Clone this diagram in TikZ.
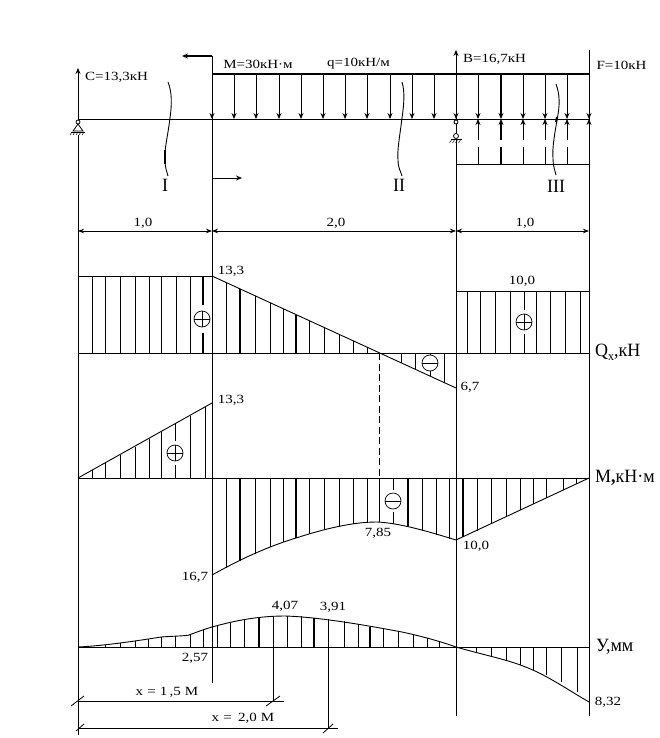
\documentclass[tikz,border=0pt]{standalone}
\usepackage{fontspec}
\setmainfont[FakeStretch=1.2]{Liberation Serif}
\usetikzlibrary{arrows.meta}
\newcommand\tallbox[1]{\scalebox{1}[1.25]{#1}}
\newcommand\gapat[3]{\fill[white] (#1-2,#2-#3) rectangle (#1+2,#2+#3);}
\tikzset{
  ln/.style={line width=0.8pt,black},
  hvy/.style={line width=2pt,black},
  hatchline/.style={line width=0.7pt,black},
  curveline/.style={line width=0.9pt,black},
  tip/.style={-{Stealth[length=6pt,width=5pt]}},
  dimline/.style={line width=0.8pt,{Stealth[length=6pt,width=4.5pt]}-{Stealth[length=6pt,width=4.5pt]}},
  lab/.style={inner sep=0pt,font=\fontsize{12.5pt}{13pt}\selectfont},
  big/.style={inner sep=0pt,font=\fontsize{15pt}{16pt}\selectfont},
  sign/.style={circle,draw,line width=0.7pt,minimum size=16pt,inner sep=0pt,fill=white}
}
\begin{document}
\begin{tikzpicture}[x=1pt,y=-1pt]
\useasboundingbox[fill=white] (0,0) rectangle (660,738);
% main verticals
\draw[ln] (78,135) -- (78,735);
\draw[ln] (212,56) -- (212,683);
\draw[ln] (456,140) -- (456,716);
\draw[ln] (589,50) -- (589,716);
% reactions
\draw[ln,tip] (78,119) -- (78,68);
\draw[ln,tip] (456,119) -- (456,50);
\draw[line width=1.6pt,tip] (212,56) -- (182,56);
\draw[ln,tip] (212,178) -- (242,178);
% beam and load
\draw[ln] (78,119) -- (589,119);
\draw[line width=1.8pt] (212,74) -- (589,74);
\draw[ln] (456,164) -- (589,164);
\foreach \x in {212,234,256,279,301,323,345,367,390,412,434,456,478,523,545,567,589}
  \draw[ln,tip] (\x,74) -- (\x,119);
\draw[hvy,tip] (501,74) -- (501,119);
\foreach \x in {478,523,545,567,589}{
  \draw[ln,tip] (\x,140) -- (\x,119);
}
\draw[hvy,tip] (501,140) -- (501,119);
\foreach \x in {478,523,545,567}
  \draw[ln] (\x,147) -- (\x,164);
\draw[hvy] (501,147) -- (501,164);
% left support
\draw[ln,fill=white] (78,122) circle (2pt);
\draw[ln,fill=white] (78,124) -- (73,131) -- (83,131) -- cycle;
\draw[ln] (71,132) -- (85,132);
\foreach \x in {72,75,78,81,84}
  \draw[line width=0.5pt] (\x,132) -- (\x-2,135);
% right support
\draw[ln,fill=white] (456,122) circle (2pt);
\draw[ln] (456,124) -- (456,133);
\draw[ln,fill=white] (456,136) circle (2.5pt);
\draw[ln] (451,139) -- (462,139);
\foreach \x in {452,455,458,461}
  \draw[line width=0.5pt] (\x,139) -- (\x-2.5,143);
% section curves
\draw[curveline] (168,82) .. controls (172,92) and (172,104) .. (170,118) .. controls (168,135) and (164,150) .. (165,160) .. controls (165,168) and (167,172) .. (168,176);
\draw[hvy] (165,150) -- (165,164);
\draw[curveline] (402,82) .. controls (405,92) and (404,104) .. (402,118) .. controls (400,135) and (397,150) .. (398,160) .. controls (398,168) and (401,172) .. (402,176);
\draw[curveline] (556,84) .. controls (560,95) and (560,105) .. (557,120) .. controls (555,132) and (552,148) .. (553,158) .. controls (553,166) and (555,171) .. (556,175);
\draw[hvy] (557,117) -- (556,122);
\node[big] (sI) at (165,185) {\tallbox{I}};
\node[big] (sII) at (399,185) {\tallbox{II}};
\node[big] (sIII) at (556,186) {\tallbox{III}};
% dimensions
\draw[dimline] (78,231) -- (212,231);
\draw[dimline] (212,231) -- (456,231);
\draw[dimline] (456,231) -- (589,231);
\node[lab] (d1) at (143,223) {1,0};
\node[lab] (d2) at (336,223) {2,0};
\node[lab] (d3) at (525,223) {1,0};
% load labels
\node[lab] (lC) at (116.5,77) {C=13,3кН};
\node[lab] (lM) at (258,64) {M=30кН·м};
\node[lab] (lq) at (358.5,64) {q=10кН/м};
\node[lab] (lB) at (494.5,59) {B=16,7кН};
\node[lab] (lF) at (621.5,65) {F=10кН};
% Q diagram
\draw[ln] (78,353) -- (589,353);
\draw[ln] (78,276) -- (212,276);
\draw[curveline] (212,276) -- (456,388);
\draw[ln] (456,291) -- (589,291);
\foreach \x in {92,105,120,135,149,161,176,190}
  \draw[hatchline] (\x,276) -- (\x,353);
\draw[hvy] (203,276) -- (203,353);
\foreach \x/\y in {226/282.5,255/296,270/302.5,283/308.5,309/320.5,324/327.5,339/334,353/340.5,367/347}
  \draw[hatchline] (\x,\y) -- (\x,353);
\draw[hvy] (240,289) -- (240,353);
\draw[hvy] (296,314.5) -- (296,353);
\foreach \x/\y in {401/363,415/369.5,430/376,444/382.5}
  \draw[hatchline] (\x,353) -- (\x,\y);
\foreach \x in {467,480,495,510,524,536,550,565,580}
  \draw[hatchline] (\x,291) -- (\x,353);
\gapat{203}{319}{14}
\node[sign] (qa) at (202,319) {};
\draw[line width=0.7pt] (qa.west) -- (qa.east) (qa.north) -- (qa.south);
\node[sign] (qb) at (430,363) {};
\draw[line width=0.7pt] (qb.west) -- (qb.east);
\gapat{524}{322}{12}
\node[sign] (qc) at (524,322) {};
\draw[line width=0.7pt] (qc.west) -- (qc.east) (qc.north) -- (qc.south);
\node[lab] (v133a) at (231,271) {13,3};
\node[lab] (v100a) at (522,281) {10,0};
\node[lab] (v67) at (470,387) {6,7};
\node[big,anchor=west] (lQ) at (595,352) {\tallbox{Q\raisebox{-3pt}{\fontsize{10pt}{10pt}\selectfont x},кН}};
% dashed link
\draw[ln,dashed,dash pattern=on 7pt off 3.5pt] (379,353) -- (379,478);
% M diagram
\draw[ln] (78,478) -- (589,478);
\draw[curveline] (78,478) -- (212,403);
\foreach \x/\y in {92/470,105/463,120/455,135/446.5,149/438.5,161/432,190/415.5,205/407}
  \draw[hatchline] (\x,478) -- (\x,\y);
\draw[hatchline] (175,424) -- (175,478);
\gapat{175}{453}{12}
\node[sign] (ma) at (175,453) {};
\draw[line width=0.7pt] (ma.west) -- (ma.east) (ma.north) -- (ma.south);
\draw[curveline] (212,575) .. controls (232,564) and (260,549) .. (296,538) .. controls (324,529) and (352,522) .. (377,522) .. controls (400,523) and (430,532) .. (456,540);
\draw[curveline] (456,540) -- (589,478);
\foreach \x/\y in {226/568,255/553.5,270/547,283/542,309/534,324/530,339/526.5,353/524,367/522.5,379/522,422/530,436/534.5,449/538.5}
  \draw[hatchline] (\x,478) -- (\x,\y);
\draw[hvy] (240,478) -- (240,561);
\draw[hvy] (296,478) -- (296,538);
\draw[hvy] (408,478) -- (408,526);
\draw[hatchline] (393,478) -- (393,523.5);
\gapat{393}{501}{11}
\node[sign] (mb) at (393,501) {};
\draw[line width=0.7pt] (mb.west) -- (mb.east);
\draw[hvy] (463,478) -- (463,537);
\foreach \x/\y in {477/530.5,491/524,506/517,520/510,533/504,546/498,563/490,576/484}
  \draw[hatchline] (\x,478) -- (\x,\y);
\node[lab] (v133b) at (231,400) {13,3};
\node[lab] (v167) at (195,577) {16,7};
\node[lab] (v785) at (378,533) {7,85};
\node[lab] (v100b) at (476,546) {10,0};
\node[big,anchor=west] (lM2) at (595,478) {\tallbox{M\textbf{,}кН·м}};
% deflection
\draw[ln] (78,647) -- (589,647);
\draw[curveline] (78,647) .. controls (100,646) and (130,642) .. (161,637) .. controls (175,636) and (185,636) .. (189,635) .. controls (197,632) and (205,629) .. (212,627) .. controls (230,622) and (255,616) .. (285,616) .. controls (320,617) and (370,626) .. (402,632) .. controls (425,637) and (442,642) .. (456,647);
\draw[curveline] (456,647) .. controls (480,654) and (505,659) .. (523,666) .. controls (545,674) and (565,688) .. (589,702);
\foreach \x/\y in {105/645,120/643,135/641,148/639,161/637,175/636,190/635,203/630,217/626,230/623,244/620,287/616,301/616,344/621,358/624,383/629,398/631.5,413/634,427/637.5,439/641}
  \draw[hatchline] (\x,647) -- (\x,\y);
\foreach \x/\y in {259/618,314/617.5,370/627}
  \draw[hvy] (\x,647) -- (\x,\y);
\foreach \x/\y in {476/652,491/657,506/660,520/665,533/670,546/675,561/682,577/692}
  \draw[hatchline] (\x,647) -- (\x,\y);
\node[lab] (v407) at (285,606) {4,07};
\node[lab] (v391) at (333,607) {3,91};
\node[lab] (v257) at (195,658) {2,57};
\node[lab] (v832) at (608,702) {8,32};
\node[big,anchor=west] (lY) at (596,647) {\tallbox{У,мм}};
% x dimensions
\draw[ln] (273,616) -- (273,701);
\draw[ln] (328,619) -- (328,728);
\draw[ln] (78,701) -- (284,701);
\draw[ln] (78,728) -- (338,728);
\draw[ln] (71,706) -- (84,696);
\draw[ln] (266,706) -- (280,696);
\draw[ln] (76,731) -- (84,724);
\draw[ln] (323,733) -- (333,724);
\node[lab] (x15) at (167,692) {x\,\,=\,\,1\,,5\,\,М};
\node[lab] (x20) at (243,718) {x\,\,=\,\,\,2,0\,\,М};
\end{tikzpicture}
\end{document}
